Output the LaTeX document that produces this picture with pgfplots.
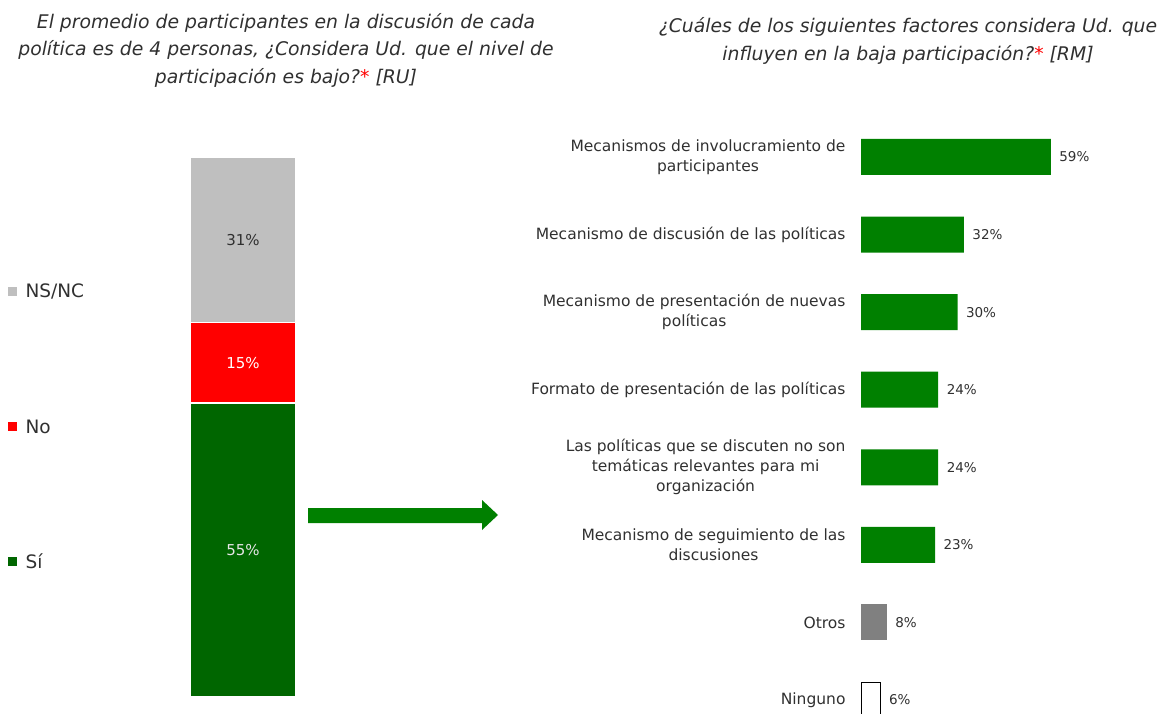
\documentclass[border=0pt]{standalone}
\usepackage{pgfplots}
\pgfplotsset{compat=1.18}
\usepackage{fontspec}
\setmainfont{DejaVu Sans}

\definecolor{txt}{HTML}{303030}
\definecolor{nsnc}{HTML}{BFBFBF}
\definecolor{rojo}{HTML}{FF0000}
\definecolor{verdeosc}{HTML}{006600}
\definecolor{verde}{HTML}{008000}
\definecolor{gris}{HTML}{808080}

\begin{document}
\begin{tikzpicture}
\begin{scope}[x=1pt,y=1pt]
% titulos
\node[font=\fontsize{18.8}{27.5}\selectfont\itshape, text=txt, align=center] at (286,663)
  {El promedio de participantes en la discusión de cada\\
   política es de 4 personas, ¿Considera Ud. que el nivel de\\
   participación es bajo?\textcolor{red}{*} [RU]};
\node[font=\fontsize{18.8}{27.5}\selectfont\itshape, text=txt, align=center] at (908,672)
  {¿Cuáles de los siguientes factores considera Ud. que\\
   influyen en la baja participación?\textcolor{red}{*} [RM]};

% leyenda
\fill[nsnc] (8,417) rectangle (17,426);
\node[anchor=west, text=txt, font=\fontsize{18.5}{20}\selectfont] at (22,421.5) {NS/NC};
\fill[rojo] (8,282) rectangle (17,291);
\node[anchor=west, text=txt, font=\fontsize{18.5}{20}\selectfont] at (22,286.5) {No};
\fill[verdeosc] (8,147) rectangle (17,156);
\node[anchor=west, text=txt, font=\fontsize{18.5}{20}\selectfont] at (22,151.5) {Sí};

% flecha
\fill[verde] (308,190) -- (482,190) -- (482,183) -- (498,198) -- (482,213) -- (482,205) -- (308,205) -- cycle;
\end{scope}

% barra apilada
\begin{axis}[
    at={(190pt,16pt)}, anchor=south west,
    scale only axis, width=106pt, height=540pt,
    xmin=-0.5, xmax=0.5, ymin=0, ymax=101,
    ybar stacked, reverse stacked plots=false, bar width=106pt,
    hide axis, clip=false
]
\addplot[fill=verdeosc, draw=white, line width=1.2pt] coordinates {(0,55)};
\addplot[fill=rojo, draw=white, line width=1.2pt] coordinates {(0,15)};
\addplot[fill=nsnc, draw=white, line width=1.2pt] coordinates {(0,31)};
\node[text=white!90!black, font=\fontsize{15}{17}\selectfont] at (axis cs:0,27.5) {55\%};
\node[text=white, font=\fontsize{15}{17}\selectfont] at (axis cs:0,62.5) {15\%};
\node[text=txt, font=\fontsize{15}{17}\selectfont] at (axis cs:0,85.5) {31\%};
\end{axis}

% barras horizontales
\begin{axis}[
    at={(861pt,-25.8pt)}, anchor=south west,
    scale only axis, width=296pt, height=620.6pt,
    xmin=0, xmax=92, ymin=-0.5, ymax=7.5, y dir=reverse,
    xbar, bar width=36pt,
    axis line style={draw=none}, xtick=\empty,
    ytick={0,...,7}, major tick length=0pt,
    yticklabels={
      {Mecanismos de involucramiento de\\participantes},
      {Mecanismo de discusión de las políticas},
      {Mecanismo de presentación de nuevas\\políticas},
      {Formato de presentación de las políticas},
      {Las políticas que se discuten no son\\temáticas relevantes para mi\\organización},
      {Mecanismo de seguimiento de las\\discusiones},
      {Otros},
      {Ninguno}},
    yticklabel style={align=center, text=txt, font=\fontsize{15.5}{20}\selectfont, xshift=-12pt},
    nodes near coords={\pgfmathprintnumber[assume math mode=true]{\pgfplotspointmeta}\%},
    nodes near coords style={text=txt, font=\fontsize{13.5}{15}\selectfont, anchor=west, xshift=5pt},
    clip=false
]
\addplot[fill=verde, draw=none, bar shift=0pt] coordinates {(59,0) (32,1) (30,2) (24,3) (24,4) (23,5)};
\addplot[fill=gris, draw=none, bar shift=0pt] coordinates {(8,6)};
\addplot[fill=white, draw=black, line width=0.8pt, bar shift=0pt] coordinates {(6,7)};
\end{axis}

\pgfresetboundingbox
\path[use as bounding box] (0pt,0pt) rectangle (1159pt,713pt);
\end{tikzpicture}
\end{document}
